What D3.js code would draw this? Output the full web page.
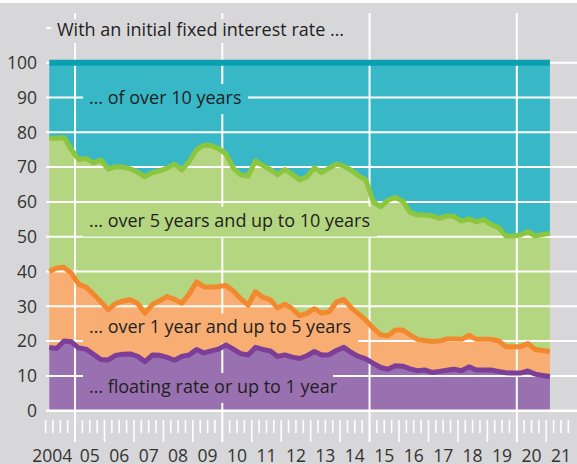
<!DOCTYPE html>
<html><head><meta charset="utf-8">
<script src="https://cdn.jsdelivr.net/npm/d3@7"></script>
<style>html,body{margin:0;padding:0;background:#d7d7d9;} svg{display:block}</style>
</head><body><svg id="c" width="577" height="464"></svg>
<script>
// ---- data (quarterly shares in %, 2004 Q1 – 2021 Q1) ----
const startYear = 2004;
const floating = [18.2,17.9,20.0,19.8,18.0,17.7,16.2,14.7,14.6,15.9,
  16.2,16.3,15.6,14.1,16.0,15.9,15.3,14.5,15.6,16.0,
  17.6,16.6,17.2,17.7,18.9,17.7,16.4,16.0,18.2,17.6,
  17.2,15.6,16.0,15.4,15.0,15.8,17.0,16.0,16.1,17.3,
  18.2,16.7,15.6,14.9,13.6,12.4,11.9,12.9,12.8,12.0,
  11.5,11.7,11.0,11.3,11.6,11.9,11.5,12.6,11.7,11.7,
  11.7,11.3,10.9,10.8,10.8,11.4,10.5,10.1,9.8];
const oneToFive = [21.8,23.1,21.2,19.7,18.3,17.8,17.3,16.6,14.5,14.9,
  15.3,15.6,15.2,13.9,14.5,15.7,17.5,17.5,15.3,17.5,
  19.4,19.0,18.3,18.0,17.1,16.7,15.8,14.3,16.0,15.0,
  14.7,13.9,14.6,13.9,12.3,12.2,12.3,12.0,12.3,13.9,
  13.8,12.9,12.2,11.1,10.1,9.4,9.6,10.3,10.4,9.8,
  9.0,8.5,8.9,8.7,9.0,8.7,9.0,9.1,8.8,8.8,
  8.8,8.8,7.5,7.6,7.6,7.9,7.1,7.2,7.2];
const fiveToTen = [38.3,37.3,37.3,35.5,35.9,37.0,37.7,40.7,40.3,39.3,
  38.5,37.6,37.7,39.2,37.9,37.3,36.9,38.8,38.3,38.1,
  38.0,40.7,40.7,39.6,37.8,35.3,35.6,37.1,37.6,37.9,
  37.4,38.3,38.7,38.7,39.0,39.2,40.5,40.4,41.3,39.7,
  38.3,39.5,39.7,40.3,36.3,36.8,39.0,38.1,37.0,35.2,
  35.8,36.0,36.1,35.3,35.4,35.2,34.0,33.4,33.8,34.4,
  33.0,32.6,31.8,31.8,32.1,32.2,32.6,33.3,34.0];
const overTen = [21.7,21.7,21.5,25.0,27.8,27.5,28.8,28.0,30.6,29.9,
  30.0,30.5,31.5,32.8,31.6,31.1,30.3,29.2,30.8,28.4,
  25.0,23.7,23.8,24.7,26.2,30.3,32.2,32.6,28.2,29.5,
  30.7,32.2,30.7,32.0,33.7,32.8,30.2,31.6,30.3,29.1,
  29.7,30.9,32.5,33.7,40.0,41.4,39.5,38.7,39.8,43.0,
  43.7,43.8,44.0,44.7,44.0,44.2,45.5,44.9,45.7,45.1,
  46.5,47.3,49.8,49.8,49.5,48.5,49.8,49.4,49.0];
const yTicks = [0,10,20,30,40,50,60,70,80,90,100];
const yearLabels = ["2004","05","06","07","08","09","10","11","12","13","14","15","16","17","18","19","20","21"];
const seriesKeys = ["floating","oneToFive","fiveToTen","overTen"];
const seriesLabels = ["\u2026 floating rate or up to 1 year","\u2026 over 1 year and up to 5 years","\u2026 over 5 years and up to 10 years","\u2026 of over 10 years"];
const titleText = "With an initial fixed interest rate \u2026";

// ---- layout / style ----
const W = 577, H = 464;
const bg = "#d7d7d9";
const areaCol = ["#9a71b0","#f8ae73","#b5d680","#38b8c7"];
const lineCol = ["#7c3e97","#f3892f","#8cc63e","#0aa0b1"];
const textCol = "#1f1f1f";
const font = "'Open Sans', 'Noto Sans', sans-serif";
const fs = 18;

const x = d3.scaleLinear().domain([2004, 2022]).range([45.6, 45.6 + 18 * 29.45]);
const y = d3.scaleLinear().domain([0, 100]).range([410.7, 62.7]);

const rows = floating.map((v, i) => ({
  t: startYear + (i + 0.5) / 4,
  floating: v, oneToFive: oneToFive[i], fiveToTen: fiveToTen[i], overTen: overTen[i]
}));
const stacked = d3.stack().keys(seriesKeys)(rows);

const svg = d3.select("#c");
svg.append("rect").attr("width", W).attr("height", H).attr("fill", bg);
svg.append("rect").attr("width", W).attr("height", 3).attr("fill", "#fff");

// areas
const area = d3.area().x(d => x(d.data.t)).y0(d => y(d[0])).y1(d => y(d[1]));
svg.append("g").selectAll("path").data(stacked).join("path")
  .attr("d", area).attr("fill", (d, i) => areaCol[i]);

const line = d3.line().x(d => x(d.data.t)).y(d => y(d[1]));

// grid
const grid = svg.append("g").attr("stroke", "#fff");
grid.selectAll("line.h").data(yTicks).join("line")
  .attr("x1", 46).attr("x2", W).attr("y1", d => y(d)).attr("y2", d => y(d))
  .attr("stroke-width", d => d === 0 ? 2.5 : 2);
grid.append("line").attr("x1", 46).attr("x2", 51).attr("y1", y(110)).attr("y2", y(110)).attr("stroke-width", 2);
const years = d3.range(2004, 2022);
grid.selectAll("line.v").data(years.filter(yy => yy % 5 === 0)).join("line")
  .attr("x1", d => x(d)).attr("x2", d => x(d)).attr("y1", 13).attr("y2", 442).attr("stroke-width", 2);
const quarters = d3.range(2004, 2022, 0.25);
grid.selectAll("line.q").data(quarters).join("line")
  .attr("x1", d => x(d)).attr("x2", d => x(d)).attr("y1", 420)
  .attr("y2", d => (Number.isInteger(d) && d > 2004) ? 442 : 433)
  .attr("stroke-width", 1.6);

// top line at 100 (upper edge of last series)
svg.append("path").datum(stacked[3]).attr("d", line)
  .attr("fill", "none").attr("stroke", lineCol[3]).attr("stroke-width", 6);

// box behind title
svg.append("rect").attr("x", 51).attr("y", 19).attr("width", 302).attr("height", 24).attr("fill", bg);

// boxes behind series labels (area colour, hide grid)
const labelBase = [5.1, 22.2, 52.9, 88.1];
const labelBoxW = [250, 275, 294, 165];
labelBase.forEach((v, i) => {
  svg.append("rect").attr("x", 83).attr("y", y(v) - 20).attr("width", labelBoxW[i]).attr("height", 30)
    .attr("fill", areaCol[i]);
});

// series lines
[0, 1, 2].forEach(i => {
  svg.append("path").datum(stacked[i]).attr("d", line)
    .attr("fill", "none").attr("stroke", lineCol[i]).attr("stroke-width", 5)
    .attr("stroke-linejoin", "round");
});

// text
svg.append("text").attr("x", 57).attr("y", 36).text(titleText)
  .attr("font-family", font).attr("font-size", fs).attr("fill", textCol);
seriesLabels.forEach((s, i) => {
  svg.append("text").attr("x", 89).attr("y", y(labelBase[i])).text(s)
    .attr("font-family", font).attr("font-size", fs).attr("fill", textCol);
});
svg.append("g").selectAll("text").data(yTicks).join("text")
  .attr("x", 37).attr("y", d => y(d)).attr("dy", "0.36em").attr("text-anchor", "end")
  .attr("font-family", font).attr("font-size", 17.5).attr("fill", "#333").text(d => d);
svg.append("g").selectAll("text").data(yearLabels).join("text")
  .attr("x", (d, i) => x(2004 + i + 0.5) - (i === 0 ? 8 : 0)).attr("y", 462)
  .attr("text-anchor", "middle")
  .attr("font-family", font).attr("font-size", 17.5).attr("fill", "#333").text(d => d);
</script></body></html>
